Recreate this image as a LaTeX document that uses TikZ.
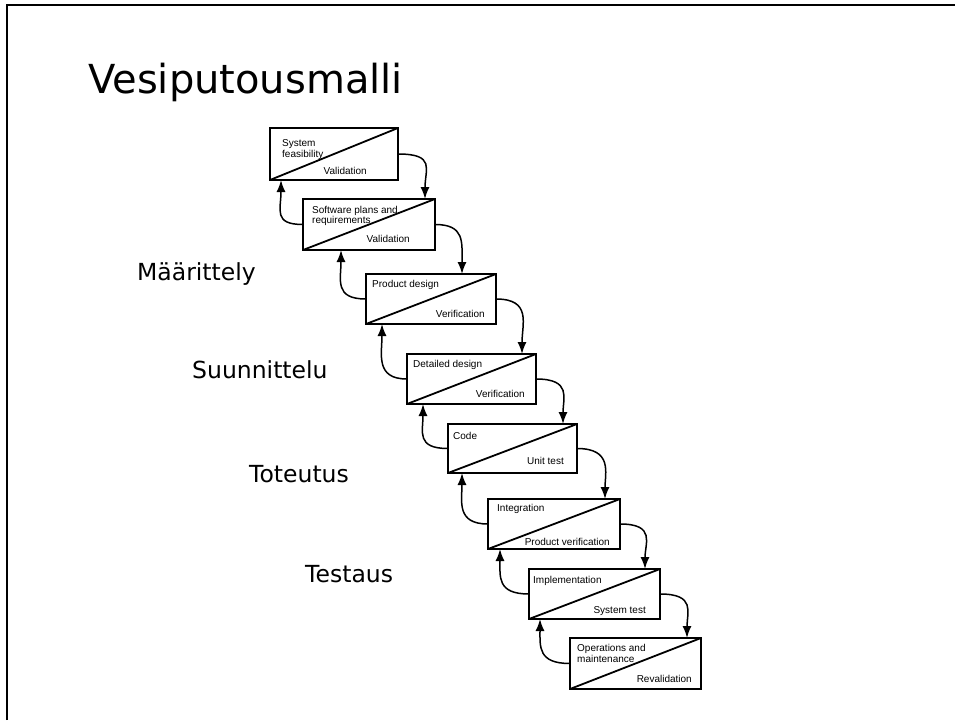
\documentclass[tikz,border=0pt]{standalone}
\usepackage{fontspec}
\setmainfont{DejaVu Sans}
\newfontfamily\boxfont{Liberation Sans}
\usetikzlibrary{arrows.meta}
\begin{document}
\begin{tikzpicture}[x=1pt,y=-1pt,
  stage/.style={draw, line width=1.7pt, inner sep=0pt, outer sep=0pt},
  diag/.style={line width=1.8pt},
  flow/.style={line width=1.5pt, -{Latex[length=12pt,width=9pt]}},
  lbl/.style={inner sep=0pt, font=\boxfont\fontsize{10}{11}\selectfont},
  phase/.style={inner sep=0pt, anchor=base west, font=\fontsize{23.5}{28}\selectfont}]
\useasboundingbox (0,0) rectangle (955,720);

% slide frame
\draw[line width=2.5pt] (7,720) -- (7,5) -- (955,5);

% title and phase labels
\node[inner sep=0pt, anchor=base west, font=\fontsize{40}{48}\selectfont] (title) at (88,93) {Vesiputousmalli};
\node[phase] (p1) at (137,280) {Määrittely};
\node[phase] (p2) at (192,378) {Suunnittelu};
\node[phase] (p3) at (249,482) {Toteutus};
\node[phase] (p4) at (305,582) {Testaus};

% stage boxes
\node[stage, minimum width=128pt, minimum height=52pt] (b1) at (334,154) {};
\node[stage, minimum width=132pt, minimum height=51pt] (b2) at (369,224.5) {};
\node[stage, minimum width=130pt, minimum height=50pt] (b3) at (431,299) {};
\node[stage, minimum width=129pt, minimum height=50pt] (b4) at (471.5,379) {};
\node[stage, minimum width=129pt, minimum height=49pt] (b5) at (512.5,448.5) {};
\node[stage, minimum width=132pt, minimum height=50pt] (b6) at (554,524) {};
\node[stage, minimum width=131pt, minimum height=50pt] (b7) at (594.5,594) {};
\node[stage, minimum width=131pt, minimum height=51pt] (b8) at (635.5,663.5) {};

% diagonals
\foreach \b in {b1,b2,b3,b4,b5,b6,b7,b8}
  \draw[diag] (\b.south west) -- (\b.north east);

% box texts
\node[lbl, anchor=base west] (t1a) at (282,146) {System};
\node[lbl, anchor=base west] (t1b) at (282,157) {feasibility};
\node[lbl, anchor=base east] (t1c) at (367,174) {Validation};
\node[lbl, anchor=base west] (t2a) at (312,213) {Software plans and};
\node[lbl, anchor=base west] (t2b) at (312,223) {requirements};
\node[lbl, anchor=base east] (t2c) at (410,242) {Validation};
\node[lbl, anchor=base west] (t3a) at (372,287) {Product design};
\node[lbl, anchor=base east] (t3c) at (485,317) {Verification};
\node[lbl, anchor=base west] (t4a) at (413,367) {Detailed design};
\node[lbl, anchor=base east] (t4c) at (525,397) {Verification};
\node[lbl, anchor=base west] (t5a) at (453,439) {Code};
\node[lbl, anchor=base east] (t5c) at (564,464) {Unit test};
\node[lbl, anchor=base west] (t6a) at (497,511) {Integration};
\node[lbl, anchor=base east] (t6c) at (610,545) {Product verification};
\node[lbl, anchor=base west] (t7a) at (533,583) {Implementation};
\node[lbl, anchor=base east] (t7c) at (646,613) {System test};
\node[lbl, anchor=base west] (t8a) at (577,651) {Operations and};
\node[lbl, anchor=base west] (t8b) at (577,662) {maintenance};
\node[lbl, anchor=base east] (t8c) at (692,682) {Revalidation};

% forward flow
\draw[flow] (b1.east) .. controls +(38,0) and +(0,-30) .. ([xshift=-10pt]b2.north east);
\draw[flow] (b2.east) .. controls +(30,0) and +(0,-32) .. ([xshift=-34pt]b3.north east);
\draw[flow] (b3.east) .. controls +(36,0) and +(0,-30) .. ([xshift=-14pt]b4.north east);
\draw[flow] (b4.east) .. controls +(36,0) and +(0,-26) .. ([xshift=-14pt]b5.north east);
\draw[flow] (b5.east) .. controls +(36,0) and +(0,-26) .. ([xshift=-15pt]b6.north east);
\draw[flow] (b6.east) .. controls +(36,0) and +(0,-26) .. ([xshift=-15pt]b7.north east);
\draw[flow] (b7.east) .. controls +(36,0) and +(0,-26) .. ([xshift=-14pt]b8.north east);

% feedback flow
\draw[flow] (b2.west) .. controls +(-30,0) and +(0,30) .. ([xshift=11pt]b1.south west);
\draw[flow] (b3.west) .. controls +(-32,0) and +(0,30) .. ([xshift=38pt]b2.south west);
\draw[flow] (b4.west) .. controls +(-32,0) and +(0,30) .. ([xshift=16pt]b3.south west);
\draw[flow] (b5.west) .. controls +(-32,0) and +(0,28) .. ([xshift=16pt]b4.south west);
\draw[flow] (b6.west) .. controls +(-32,0) and +(0,28) .. ([xshift=14pt]b5.south west);
\draw[flow] (b7.west) .. controls +(-32,0) and +(0,28) .. ([xshift=12pt]b6.south west);
\draw[flow] (b8.west) .. controls +(-32,0) and +(0,28) .. ([xshift=11pt]b7.south west);
\end{tikzpicture}
\end{document}
